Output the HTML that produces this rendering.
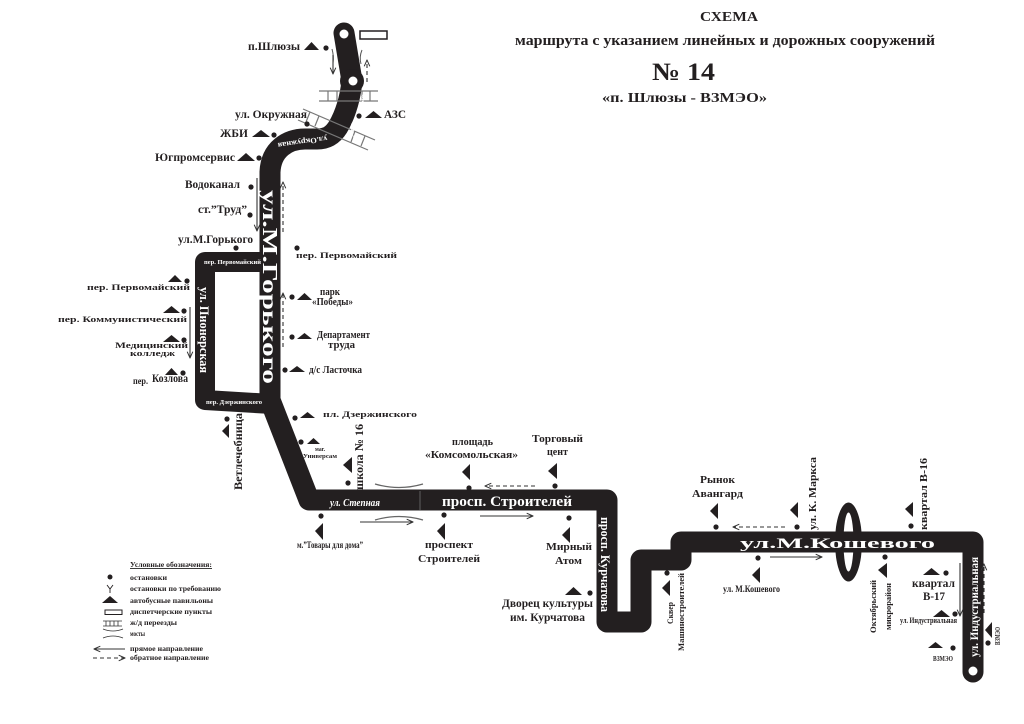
<!DOCTYPE html>
<html><head><meta charset="utf-8"><title>Схема маршрута № 14</title>
<style>
html,body{margin:0;padding:0;background:#fff;}
svg{display:block;}
text{font-family:"Liberation Serif","DejaVu Serif",serif;font-weight:bold;fill:#231f20;}
.w{fill:#fff;}
</style></head>
<body>
<svg width="1024" height="724" viewBox="0 0 1024 724" xmlns="http://www.w3.org/2000/svg">
<defs>
<marker id="ah" viewBox="0 0 10 10" refX="9" refY="5" markerWidth="7" markerHeight="7" orient="auto" markerUnits="userSpaceOnUse">
<path d="M0,1 L9,5 L0,9" fill="none" stroke="#333" stroke-width="1.4"/>
</marker>
</defs>
<rect width="1024" height="724" fill="#fff"/>

<!-- Title -->
<text x="729" y="21" font-size="14" text-anchor="middle" textLength="58" lengthAdjust="spacingAndGlyphs">СХЕМА</text>
<text x="515" y="45" font-size="14.5" textLength="420" lengthAdjust="spacingAndGlyphs">маршрута с указанием линейных и дорожных сооружений</text>
<text x="652" y="80" font-size="25" textLength="63" lengthAdjust="spacingAndGlyphs">№ 14</text>
<text x="602" y="102" font-size="14" textLength="165" lengthAdjust="spacingAndGlyphs">«п. Шлюзы - ВЗМЭО»</text>

<!-- Ellipse (bridge ring) -->
<ellipse cx="848.5" cy="542" rx="13.5" ry="39.5" fill="#231f20"/>
<ellipse cx="848.5" cy="542" rx="5" ry="29.5" fill="#fff"/>

<!-- Loop (ул. Пионерская) -->
<path d="M272,262 L205,262 L205,400 L272,404" fill="none" stroke="#231f20" stroke-width="20" stroke-linejoin="round"/>

<!-- Main road -->
<path d="M344,33 L352,81 C350,100 345,115 338,127 C333,135 327,139 317,139 L305,139 C288,139 271,149 270,172 L270,400 L309,500 L607,500 L607,622 L641,622 L641,560 L681,560 L681,542 L973,542 L973,672" fill="none" stroke="#231f20" stroke-width="21" stroke-linejoin="round" stroke-linecap="round"/>
<circle cx="352" cy="81" r="12" fill="#231f20"/>
<circle cx="344" cy="34" r="4.5" fill="#fff"/>
<circle cx="353" cy="81" r="4.5" fill="#fff"/>
<circle cx="973" cy="671" r="4.5" fill="#fff"/>

<!-- dispatch rect -->
<rect x="360" y="31" width="27" height="8" fill="#fff" stroke="#231f20" stroke-width="1.5"/>

<!-- top bridge ticks -->
<g stroke="#555" stroke-width="1" fill="none">
<path d="M332,49 Q334,56 333,63"/><path d="M362,50 Q359,57 361,64"/>
</g>

<!-- Rails -->
<g stroke="#777" stroke-width="1.2" fill="none">
<line x1="319" y1="91" x2="378" y2="91"/><line x1="319" y1="101" x2="378" y2="101"/>
<line x1="328" y1="91" x2="328" y2="101"/><line x1="337" y1="91" x2="337" y2="101"/>
<line x1="362" y1="91" x2="362" y2="101"/><line x1="370" y1="91" x2="370" y2="101"/>
<line x1="303" y1="109" x2="375" y2="140"/><line x1="298" y1="120" x2="368" y2="150"/>
<line x1="310" y1="112" x2="306" y2="122"/><line x1="319" y1="116" x2="315" y2="126"/>
<line x1="355" y1="131" x2="351" y2="142"/><line x1="365" y1="136" x2="361" y2="146"/>
</g>

<!-- Bridges center -->
<g stroke="#666" stroke-width="1.2" fill="none">
<path d="M375,484 Q399,491 423,484"/>
<path d="M375,520 Q399,513 423,520"/>
<line x1="420" y1="491" x2="420" y2="510" stroke="#555"/>
</g>

<!-- Road labels (white) -->
<text class="w" font-size="21" transform="translate(263,190) rotate(90)" textLength="194" lengthAdjust="spacingAndGlyphs">ул.М.Горького</text>
<text class="w" font-size="13" transform="translate(200,287) rotate(90)" textLength="86" lengthAdjust="spacingAndGlyphs">ул. Пионерская</text>
<text class="w" font-size="6" x="204" y="264" textLength="57" lengthAdjust="spacingAndGlyphs">пер. Первомайский</text>
<text class="w" font-size="6" x="206" y="404" textLength="56" lengthAdjust="spacingAndGlyphs">пер. Дзержинского</text>
<text class="w" font-size="8" transform="translate(327,136) rotate(172)" textLength="50" lengthAdjust="spacingAndGlyphs">ул.Окружная</text>
<text class="w" font-size="7" transform="translate(352,137) rotate(-72)" textLength="44" lengthAdjust="spacingAndGlyphs">ул.Окружная</text>
<text class="w" font-size="11" font-style="italic" x="330" y="506" textLength="50" lengthAdjust="spacingAndGlyphs">ул. Степная</text>
<text class="w" font-size="15" x="442" y="506" textLength="130" lengthAdjust="spacingAndGlyphs">просп. Строителей</text>
<text class="w" font-size="13" transform="translate(601,517) rotate(90)" textLength="95" lengthAdjust="spacingAndGlyphs">просп. Курчатова</text>
<text class="w" font-size="15" x="740" y="548" textLength="195" lengthAdjust="spacingAndGlyphs">ул.М.Кошевого</text>
<text class="w" font-size="12" transform="translate(978,657) rotate(-90)" textLength="100" lengthAdjust="spacingAndGlyphs">ул. Индустриальная</text>

<!-- Arrows -->
<g stroke="#333" stroke-width="1.1" fill="none">
<line x1="333" y1="55" x2="333" y2="74" marker-end="url(#ah)"/>
<line x1="367" y1="82" x2="367" y2="60" stroke-dasharray="4,3" marker-end="url(#ah)"/>
<line x1="257" y1="178" x2="257" y2="231" marker-end="url(#ah)"/>
<line x1="283" y1="232" x2="283" y2="182" stroke-dasharray="4,3" marker-end="url(#ah)"/>
<line x1="190" y1="307" x2="190" y2="358" marker-end="url(#ah)"/>
<line x1="283" y1="347" x2="283" y2="293" stroke-dasharray="4,3" marker-end="url(#ah)"/>
<line x1="360" y1="522" x2="413" y2="522" marker-end="url(#ah)"/>
<line x1="480" y1="516" x2="533" y2="516" marker-end="url(#ah)"/>
<line x1="535" y1="486" x2="485" y2="486" stroke-dasharray="4,3" marker-end="url(#ah)"/>
<line x1="785" y1="527" x2="733" y2="527" stroke-dasharray="4,3" marker-end="url(#ah)"/>
<line x1="770" y1="557" x2="822" y2="557" marker-end="url(#ah)"/>
<line x1="960" y1="563" x2="960" y2="616" marker-end="url(#ah)"/>
<line x1="984" y1="613" x2="984" y2="564" stroke-dasharray="4,3" marker-end="url(#ah)"/>
</g>

<!-- Stops: dots -->
<g fill="#231f20">
<circle cx="326" cy="48" r="2.6"/><circle cx="359" cy="116" r="2.6"/><circle cx="307" cy="124" r="2.6"/>
<circle cx="274" cy="135" r="2.6"/><circle cx="259" cy="158" r="2.6"/><circle cx="251" cy="187" r="2.6"/>
<circle cx="250" cy="215" r="2.6"/><circle cx="236" cy="248" r="2.6"/><circle cx="297" cy="248" r="2.6"/>
<circle cx="187" cy="281" r="2.6"/><circle cx="184" cy="311" r="2.6"/><circle cx="184" cy="340" r="2.6"/><circle cx="183" cy="373" r="2.6"/>
<circle cx="292" cy="297" r="2.6"/><circle cx="292" cy="337" r="2.6"/><circle cx="285" cy="370" r="2.6"/>
<circle cx="295" cy="418" r="2.6"/><circle cx="301" cy="442" r="2.6"/><circle cx="227" cy="419" r="2.6"/>
<circle cx="348" cy="483" r="2.6"/><circle cx="469" cy="488" r="2.6"/><circle cx="555" cy="486" r="2.6"/>
<circle cx="321" cy="516" r="2.6"/><circle cx="444" cy="515" r="2.6"/><circle cx="569" cy="518" r="2.6"/>
<circle cx="590" cy="593" r="2.6"/><circle cx="716" cy="527" r="2.6"/><circle cx="797" cy="527" r="2.6"/>
<circle cx="758" cy="558" r="2.6"/><circle cx="667" cy="573" r="2.6"/><circle cx="911" cy="526" r="2.6"/>
<circle cx="885" cy="557" r="2.6"/><circle cx="946" cy="573" r="2.6"/><circle cx="955" cy="614" r="2.6"/>
<circle cx="988" cy="643" r="2.6"/><circle cx="953" cy="648" r="2.6"/>
</g>

<!-- Pavilions: triangles -->
<g fill="#231f20">
<polygon points="304,50 319,50 311.5,42"/>
<polygon points="365,118 382,118 373.5,111"/>
<polygon points="252,137 270,137 261,130"/>
<polygon points="237,161 255,161 246,153"/>
<polygon points="168,282 182,282 175,275"/>
<polygon points="163,313 180,313 171.5,306"/>
<polygon points="163,342 180,342 171.5,335"/>
<polygon points="165,375 178,375 171.5,368"/>
<polygon points="297,300 312,300 304.5,293"/>
<polygon points="297,339 312,339 304.5,333"/>
<polygon points="289,372 305,372 297,366"/>
<polygon points="300,418 315,418 307.5,412"/>
<polygon points="307,444 320,444 313.5,438"/>
<polygon points="222,431 229,424 229,438"/>
<polygon points="343,465 352,457 352,473"/>
<polygon points="462,472 470,464 470,480"/>
<polygon points="548,471 557,463 557,479"/>
<polygon points="315,531 323,523 323,540"/>
<polygon points="437,531 445,523 445,540"/>
<polygon points="562,535 570,527 570,543"/>
<polygon points="565,595 582,595 573.5,587"/>
<polygon points="710,511 718,503 718,519"/>
<polygon points="790,510 798,502 798,518"/>
<polygon points="752,575 760,567 760,583"/>
<polygon points="662,588 670,580 670,596"/>
<polygon points="905,509 913,502 913,517"/>
<polygon points="878,570 887,563 887,578"/>
<polygon points="923,575 940,575 931.5,568"/>
<polygon points="933,617 950,617 941.5,610"/>
<polygon points="985,630 992,622 992,638"/>
<polygon points="928,648 943,648 935.5,642"/>
</g>

<!-- Labels -->
<text x="248" y="50" font-size="12" textLength="52" lengthAdjust="spacingAndGlyphs">п.Шлюзы</text>
<text x="235" y="118" font-size="12" textLength="72" lengthAdjust="spacingAndGlyphs">ул. Окружная</text>
<text x="384" y="118" font-size="12" textLength="22" lengthAdjust="spacingAndGlyphs">АЗС</text>
<text x="220" y="137" font-size="12" textLength="28" lengthAdjust="spacingAndGlyphs">ЖБИ</text>
<text x="155" y="161" font-size="12" textLength="80" lengthAdjust="spacingAndGlyphs">Югпромсервис</text>
<text x="185" y="188" font-size="12" textLength="55" lengthAdjust="spacingAndGlyphs">Водоканал</text>
<text x="198" y="213" font-size="12" textLength="49" lengthAdjust="spacingAndGlyphs">ст.”Труд”</text>
<text x="178" y="243" font-size="12" textLength="75" lengthAdjust="spacingAndGlyphs">ул.М.Горького</text>
<text x="296" y="258" font-size="8" textLength="101" lengthAdjust="spacingAndGlyphs">пер. Первомайский</text>

<text x="87" y="290" font-size="8" textLength="103" lengthAdjust="spacingAndGlyphs">пер. Первомайский</text>
<text x="58" y="322" font-size="8" textLength="129" lengthAdjust="spacingAndGlyphs">пер. Коммунистический</text>
<text x="115" y="348" font-size="8" textLength="73" lengthAdjust="spacingAndGlyphs">Медицинский</text>
<text x="130" y="356" font-size="8" textLength="45" lengthAdjust="spacingAndGlyphs">колледж</text>
<text x="133" y="384" font-size="9" textLength="15" lengthAdjust="spacingAndGlyphs">пер.</text>
<text x="152" y="382" font-size="12" textLength="36" lengthAdjust="spacingAndGlyphs">Козлова</text>

<text x="320" y="295" font-size="10" textLength="20" lengthAdjust="spacingAndGlyphs">парк</text>
<text x="312" y="305" font-size="10" textLength="41" lengthAdjust="spacingAndGlyphs">«Победы»</text>
<text x="317" y="338" font-size="10.5" textLength="53" lengthAdjust="spacingAndGlyphs">Департамент</text>
<text x="328" y="348" font-size="10" textLength="27" lengthAdjust="spacingAndGlyphs">труда</text>
<text x="309" y="373" font-size="10.5" textLength="53" lengthAdjust="spacingAndGlyphs">д/с Ласточка</text>
<text x="323" y="417" font-size="8" textLength="94" lengthAdjust="spacingAndGlyphs">пл. Дзержинского</text>
<text x="315" y="451" font-size="6" textLength="10" lengthAdjust="spacingAndGlyphs">маг.</text>
<text x="303" y="458" font-size="6" textLength="34" lengthAdjust="spacingAndGlyphs">Универсам</text>

<text font-size="12" transform="translate(242,490) rotate(-90)" textLength="77" lengthAdjust="spacingAndGlyphs">Ветлечебница</text>
<text font-size="12" transform="translate(363,490) rotate(-90)" textLength="66" lengthAdjust="spacingAndGlyphs">школа № 16</text>

<text x="452" y="445" font-size="11" textLength="41" lengthAdjust="spacingAndGlyphs">площадь</text>
<text x="425" y="458" font-size="11" textLength="93" lengthAdjust="spacingAndGlyphs">«Комсомольская»</text>
<text x="532" y="442" font-size="11" textLength="51" lengthAdjust="spacingAndGlyphs">Торговый</text>
<text x="547" y="455" font-size="11" textLength="21" lengthAdjust="spacingAndGlyphs">цент</text>
<text x="297" y="548" font-size="9" textLength="66" lengthAdjust="spacingAndGlyphs">м.”Товары для дома”</text>
<text x="425" y="548" font-size="11" textLength="48" lengthAdjust="spacingAndGlyphs">проспект</text>
<text x="418" y="562" font-size="11" textLength="62" lengthAdjust="spacingAndGlyphs">Строителей</text>
<text x="546" y="550" font-size="11" textLength="46" lengthAdjust="spacingAndGlyphs">Мирный</text>
<text x="555" y="564" font-size="11" textLength="27" lengthAdjust="spacingAndGlyphs">Атом</text>
<text x="502" y="607" font-size="12" textLength="91" lengthAdjust="spacingAndGlyphs">Дворец культуры</text>
<text x="510" y="621" font-size="12" textLength="75" lengthAdjust="spacingAndGlyphs">им. Курчатова</text>

<text x="700" y="483" font-size="11" textLength="35" lengthAdjust="spacingAndGlyphs">Рынок</text>
<text x="692" y="497" font-size="11" textLength="51" lengthAdjust="spacingAndGlyphs">Авангард</text>
<text font-size="11" transform="translate(816,530) rotate(-90)" textLength="73" lengthAdjust="spacingAndGlyphs">ул. К. Маркса</text>
<text x="723" y="592" font-size="9" textLength="57" lengthAdjust="spacingAndGlyphs">ул. М.Кошевого</text>
<text font-size="8" transform="translate(673,624) rotate(-90)" textLength="22" lengthAdjust="spacingAndGlyphs">Сквер</text>
<text font-size="8" transform="translate(684,651) rotate(-90)" textLength="78" lengthAdjust="spacingAndGlyphs">Машиностроителей</text>
<text font-size="11" transform="translate(927,530) rotate(-90)" textLength="72" lengthAdjust="spacingAndGlyphs">квартал В-16</text>
<text font-size="8" transform="translate(876,633) rotate(-90)" textLength="53" lengthAdjust="spacingAndGlyphs">Октябрьский</text>
<text font-size="8" transform="translate(891,630) rotate(-90)" textLength="47" lengthAdjust="spacingAndGlyphs">микрорайон</text>
<text x="912" y="587" font-size="12" textLength="43" lengthAdjust="spacingAndGlyphs">квартал</text>
<text x="923" y="600" font-size="12" textLength="22" lengthAdjust="spacingAndGlyphs">В-17</text>
<text x="900" y="623" font-size="8" textLength="57" lengthAdjust="spacingAndGlyphs">ул. Индустриальная</text>
<text font-size="7" transform="translate(1000,645) rotate(-90)" textLength="18" lengthAdjust="spacingAndGlyphs">ВЗМЭО</text>
<text x="933" y="661" font-size="7" textLength="20" lengthAdjust="spacingAndGlyphs">ВЗМЭО</text>

<!-- Legend -->
<text x="130" y="567" font-size="7.5" text-decoration="underline" textLength="82" lengthAdjust="spacingAndGlyphs">Условные обозначения:</text>
<line x1="130" y1="568.5" x2="212" y2="568.5" stroke="#333" stroke-width="0.7"/>
<circle cx="110" cy="577" r="2.5" fill="#231f20"/>
<text x="130" y="580" font-size="7.5" textLength="37" lengthAdjust="spacingAndGlyphs">остановки</text>
<g stroke="#231f20" stroke-width="0.9" fill="none"><path d="M107,585 L110,589 L113,585 M110,589 L110,593"/></g>
<text x="130" y="591" font-size="7.5" textLength="91" lengthAdjust="spacingAndGlyphs">остановки по требованию</text>
<polygon points="102,603 118,603 110,596" fill="#231f20"/>
<text x="130" y="603" font-size="7.5" textLength="83" lengthAdjust="spacingAndGlyphs">автобусные павильоны</text>
<rect x="105" y="610" width="17" height="4.5" fill="#fff" stroke="#231f20" stroke-width="1"/>
<text x="130" y="614" font-size="7.5" textLength="82" lengthAdjust="spacingAndGlyphs">диспетчерские пункты</text>
<g stroke="#333" stroke-width="0.8" fill="none">
<line x1="103" y1="621" x2="122" y2="621"/><line x1="103" y1="626" x2="122" y2="626"/>
<line x1="106" y1="621" x2="106" y2="626"/><line x1="110" y1="621" x2="110" y2="626"/><line x1="114" y1="621" x2="114" y2="626"/><line x1="118" y1="621" x2="118" y2="626"/>
<path d="M103,629 Q113,633 123,629"/><path d="M103,638 Q113,634 123,638"/>
</g>
<text x="130" y="625" font-size="7.5" textLength="47" lengthAdjust="spacingAndGlyphs">ж/д переезды</text>
<text x="130" y="636" font-size="7.5" textLength="15" lengthAdjust="spacingAndGlyphs">мосты</text>
<g stroke="#333" stroke-width="1" fill="none">
<line x1="125" y1="649" x2="94" y2="649" marker-end="url(#ah)"/>
<line x1="93" y1="658" x2="125" y2="658" stroke-dasharray="4,3" marker-end="url(#ah)"/>
</g>
<text x="130" y="651" font-size="7.5" textLength="73" lengthAdjust="spacingAndGlyphs">прямое направление</text>
<text x="130" y="660" font-size="7.5" textLength="79" lengthAdjust="spacingAndGlyphs">обратное направление</text>
</svg>
</body></html>
